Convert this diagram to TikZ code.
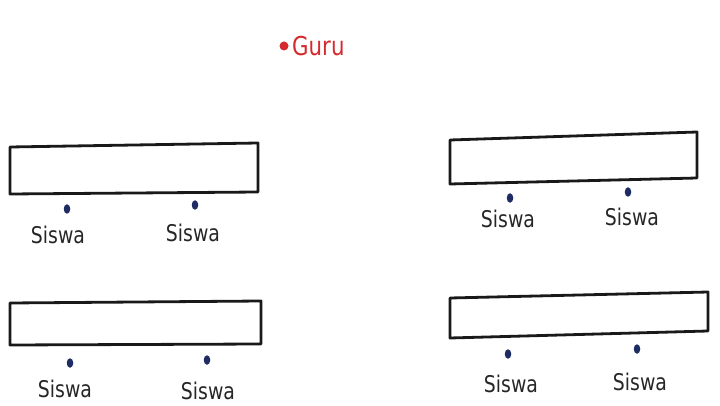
\documentclass[tikz,border=0pt]{standalone}
\usepackage{fontspec}
\usetikzlibrary{shapes.geometric}
\newfontfamily\handfont[FakeStretch=0.82]{DejaVu Sans}
\begin{document}
\begin{tikzpicture}[x=1pt,y=-1pt,
  tablebox/.style={draw=black!90,line width=2.8pt,line join=round},
  studot/.style={ellipse,fill=dotblue,inner sep=0pt,minimum width=6.5pt,minimum height=9.5pt},
  stulabel/.style={font=\handfont\fontsize{23}{23}\selectfont,text=black!85,inner sep=0pt},
  gurudot/.style={circle,fill=guruRed,inner sep=0pt,minimum size=9pt},
  gurulabel/.style={font=\handfont\fontsize{26}{26}\selectfont,text=guruRed,inner sep=0pt,anchor=west}]
\definecolor{dotblue}{HTML}{1E2C63}
\definecolor{guruRed}{HTML}{D42A2E}
\useasboundingbox (0,0) rectangle (720,406);
% Guru
\node[gurudot] (gdot) at (284,46) {};
\node[gurulabel] (guru) at (292,46) {Guru};
% tables
\draw[tablebox] (10,147) -- (258,143) -- (258,192) -- (10,194) -- cycle;
\draw[tablebox] (450,140) -- (697,132) -- (697,178) -- (450,184) -- cycle;
\draw[tablebox] (10,303) -- (261,301) -- (261,344) -- (10,345) -- cycle;
\draw[tablebox] (450,298) -- (708,292) -- (708,331) -- (450,338) -- cycle;
% students top-left
\node[studot] (d1) at (67,209) {};
\node[studot] (d2) at (195,205) {};
\node[stulabel] (s1) at (58,235) {Siswa};
\node[stulabel] (s2) at (193,233) {Siswa};
% students top-right
\node[studot] (d3) at (510,198) {};
\node[studot] (d4) at (628,192) {};
\node[stulabel] (s3) at (508,219) {Siswa};
\node[stulabel] (s4) at (632,217) {Siswa};
% students bottom-left
\node[studot] (d5) at (70,363) {};
\node[studot] (d6) at (207,360) {};
\node[stulabel] (s5) at (65,389) {Siswa};
\node[stulabel] (s6) at (208,391) {Siswa};
% students bottom-right
\node[studot] (d7) at (508,354) {};
\node[studot] (d8) at (637,349) {};
\node[stulabel] (s7) at (511,384) {Siswa};
\node[stulabel] (s8) at (640,382) {Siswa};
\end{tikzpicture}
\end{document}
